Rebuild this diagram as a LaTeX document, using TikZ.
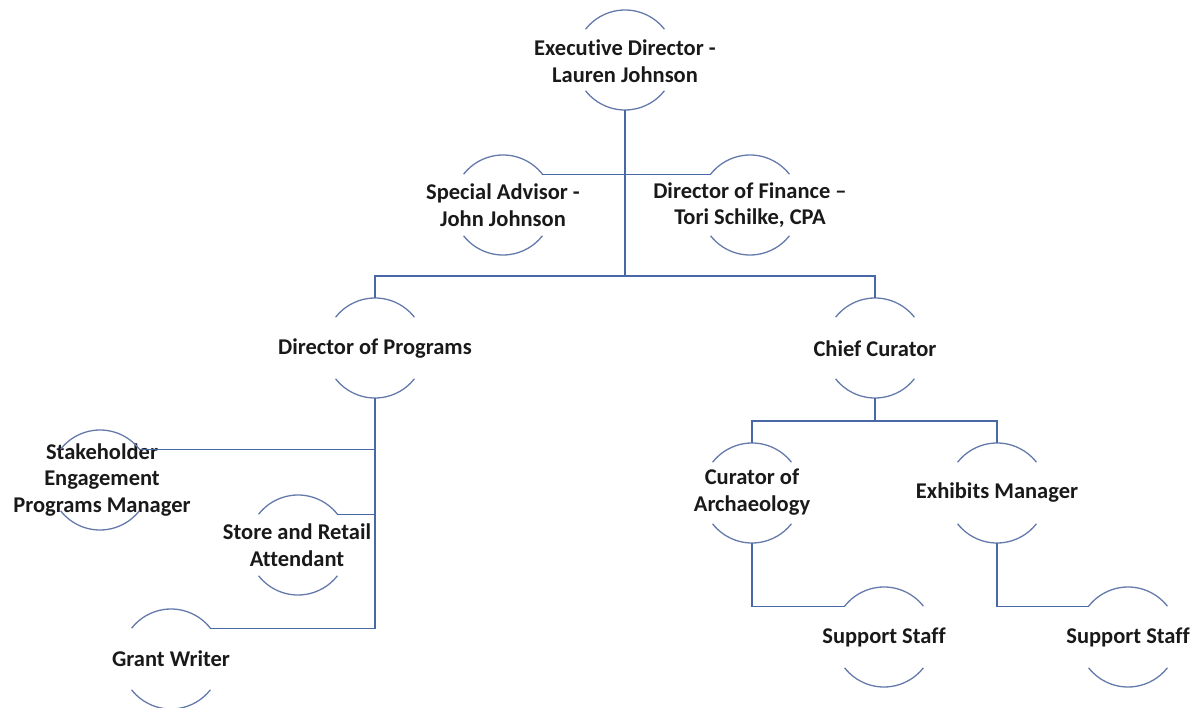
\documentclass[tikz,border=0pt]{standalone}
\usepackage{fontspec}
\setmainfont{Carlito}[RawFeature={-liga;-clig;-dlig}]
\definecolor{conn}{RGB}{72,104,168}
\definecolor{arcc}{RGB}{100,122,170}
\begin{document}
\begin{tikzpicture}[x=1pt,y=-1pt,
  person/.style={align=center,font=\fontsize{22.5}{26.5}\selectfont\bfseries,inner sep=0pt,text=black!90},
  arcline/.style={draw=arcc,line width=1.3pt},
  connline/.style={draw=conn,line width=1.2pt}]
\useasboundingbox (0,0) rectangle (1196,708);
% nodes
\node[person] (ed) at (625,61) {Executive Director -\\Lauren Johnson};
\node[person] (sa) at (503,205) {Special Advisor -\\John Johnson};
\node[person] (df) at (750,205) {Director of Finance –\\Tori Schilke, CPA};
\node[person] (dp) at (375,349) {Director of Programs};
\node[person] (cc) at (875,349) {Chief Curator};
\node[person] (sk) at (102,480) {Stakeholder\\Engagement\\Programs Manager};
\node[person] (sr) at (297,545) {Store and Retail\\Attendant};
\node[person] (gw) at (171,659) {Grant Writer};
\node[person] (ca) at (752,492) {Curator of\\Archaeology};
\node[person] (em) at (997,493) {Exhibits Manager};
\node[person] (s1) at (884,637) {Support Staff};
\node[person] (s2) at (1128,637) {Support Staff};
% arc pieces and anchor coordinates
\foreach \n/\cx/\cy in {ed/625/60,sa/503/205,df/750/205,dp/375/348,cc/875/348,sk/100/480,sr/298/545,gw/171/659,ca/752/493,em/997/493,s1/884/637,s2/1128/637}{
  \coordinate (\n-c) at (\cx,\cy);
  \coordinate (\n-tr) at ([shift={(38:50pt)}]\n-c);
  \coordinate (\n-tl) at ([shift={(142:50pt)}]\n-c);
  \coordinate (\n-top) at ([shift={(90:50pt)}]\n-c);
  \coordinate (\n-bot) at ([shift={(270:50pt)}]\n-c);
  \draw[arcline] (\n-tr) arc[start angle=38,end angle=142,radius=50pt];
  \draw[arcline] ([shift={(218:50pt)}]\n-c) arc[start angle=218,end angle=322,radius=50pt];
}
% connectors
\coordinate (bus1) at (625,276);
\coordinate (bus2) at (875,421);
\draw[connline] (ed-bot) |- (sa-tr);
\draw[connline] (ed-bot) |- (df-tl);
\draw[connline] (ed-bot) -- (bus1);
\draw[connline] (bus1) -| (dp-top);
\draw[connline] (bus1) -| (cc-top);
\draw[connline] (dp-bot) |- (gw-tr);
\draw[connline] (dp-bot) |- (sk-tr);
\draw[connline] (dp-bot) |- (sr-tr);
\draw[connline] (cc-bot) -- (bus2);
\draw[connline] (bus2) -| (ca-top);
\draw[connline] (bus2) -| (em-top);
\draw[connline] (ca-bot) |- (s1-tl);
\draw[connline] (em-bot) |- (s2-tl);
\end{tikzpicture}
\end{document}
